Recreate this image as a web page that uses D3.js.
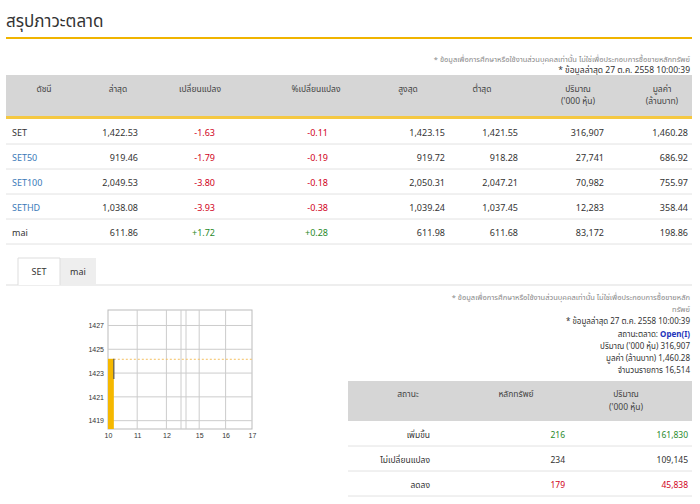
<!DOCTYPE html><html><head><meta charset="utf-8">
<script src="https://cdn.jsdelivr.net/npm/d3@7"></script>
<style>body{margin:0;background:#fff;font-family:"Noto Sans","Noto Sans Thai",Arial,sans-serif}</style></head><body>
<svg id="c" width="700" height="504"></svg>
<script>
const indices=["SET","SET50","SET100","SETHD","mai"];
const last=["1,422.53","919.46","2,049.53","1,038.08","611.86"];
const chg=["-1.63","-1.79","-3.80","-3.93","+1.72"];
const pct=["-0.11","-0.19","-0.18","-0.38","+0.28"];
const high=["1,423.15","919.72","2,050.31","1,039.24","611.98"];
const low=["1,421.55","918.28","2,047.21","1,037.45","611.68"];
const vol=["316,907","27,741","70,982","12,283","83,172"];
const val=["1,460.28","686.92","755.97","358.44","198.86"];
const yTicks=[1419,1421,1423,1425,1427];
const xTicks=[10,11,12,15,16,17];
const barTime=[10,10.2];const barVal=1424.2;const prevClose=1424.16;
const lineT=[10.2,10.2];const lineV=[1424.2,1422.5];
const statusRows=["เพิ่มขึ้น","ไม่เปลี่ยนแปลง","ลดลง"];
const statusN=[216,234,179];
const statusVol=["161,830","109,145","45,838"];
const svg=d3.select("#c");
const t=(x,y,s,o={})=>svg.append("text").attr("x",x).attr("y",y).text(s).attr("font-size",o.fs||10).attr("fill",o.c||"#333").attr("text-anchor",o.a||"start").attr("font-weight",o.w||"normal");
t(6,27,"สรุปภาวะตลาด",{fs:17,c:"#333"});
svg.append("rect").attr("x",6).attr("y",37).attr("width",686).attr("height",2).attr("fill","#f0b400");
t(690,62,"* ข้อมูลเพื่อการศึกษาหรือใช้งานส่วนบุคคลเท่านั้น ไม่ใช่เพื่อประกอบการซื้อขายหลักทรัพย์",{fs:7.5,c:"#888",a:"end"});
t(690,73,"* ข้อมูลล่าสุด 27 ต.ค. 2558 10:00:39",{fs:8.5,c:"#333",a:"end"});
svg.append("rect").attr("x",6).attr("y",75).attr("width",686).attr("height",42).attr("fill","#d6d6d6");
svg.append("rect").attr("x",6).attr("y",116).attr("width",686).attr("height",3).attr("fill","#f5c842");
const cols=[[44,"ดัชนี"],[118,"ล่าสุด"],[200,"เปลี่ยนแปลง"],[316,"%เปลี่ยนแปลง"],[408,"สูงสุด"],[482,"ต่ำสุด"],[578,"ปริมาณ","('000 หุ้น)"],[662,"มูลค่า","(ล้านบาท)"]];
cols.forEach(c=>{t(c[0],92,c[1],{fs:8.5,a:"middle",c:"#444"});if(c[2])t(c[0],104,c[2],{fs:8.5,a:"middle",c:"#444"});});
const ry=d3.scaleBand().domain(indices).range([119,244]);
indices.forEach((d,i)=>{const y=ry(d)+ry.bandwidth()/2+4;
 t(12,y,d,{fs:9,c:i==0||i==4?"#333":"#3a7ab8"});
 const col=chg[i][0]=="-"?"#d0021b":"#2a8a2a";
 t(138,y,last[i],{fs:9,a:"end"});t(215,y,chg[i],{fs:9,a:"end",c:col});t(328,y,pct[i],{fs:9,a:"end",c:col});
 t(445,y,high[i],{fs:9,a:"end"});t(518,y,low[i],{fs:9,a:"end"});t(604,y,vol[i],{fs:9,a:"end"});t(688,y,val[i],{fs:9,a:"end"});
 svg.append("line").attr("x1",6).attr("x2",692).attr("y1",ry(d)+ry.bandwidth()).attr("y2",ry(d)+ry.bandwidth()).attr("stroke","#e2e2e2");});
svg.append("line").attr("x1",6).attr("x2",692).attr("y1",285).attr("y2",285).attr("stroke","#ddd");
svg.append("rect").attr("x",60).attr("y",258).attr("width",36).attr("height",27).attr("fill","#eee");
svg.append("path").attr("d","M18,285V258H60V285").attr("fill","#fff").attr("stroke","#ddd");
t(39,275,"SET",{fs:9,a:"middle"});t(78,275,"mai",{fs:9,a:"middle"});
const x=d3.scaleLinear().domain([10,12.5,14.5,17]).range([108,181,186,252]);
const y=d3.scaleLinear().domain([1418.3,1428.3]).range([429,310]);
const g=svg.append("g");
g.append("rect").attr("x",108).attr("y",310).attr("width",144).attr("height",119).attr("fill","#fff").attr("stroke","#bbb");
[11,12,12.5,14.5,15,16].forEach(v=>g.append("line").attr("x1",x(v)).attr("x2",x(v)).attr("y1",310).attr("y2",429).attr("stroke","#ccc"));
yTicks.forEach(v=>g.append("line").attr("x1",108).attr("x2",252).attr("y1",y(v)).attr("y2",y(v)).attr("stroke","#ccc"));
g.append("rect").attr("x",x(barTime[0])).attr("y",y(barVal)).attr("width",x(barTime[1])-x(barTime[0])).attr("height",429-y(barVal)).attr("fill","#f5b800");
g.append("line").attr("x1",x(barTime[1])).attr("x2",252).attr("y1",y(prevClose)).attr("y2",y(prevClose)).attr("stroke","#f5c060").attr("stroke-dasharray","2,2");
g.append("line").attr("x1",x(lineT[0])).attr("x2",x(lineT[1])).attr("y1",y(lineV[0])).attr("y2",y(lineV[1])).attr("stroke","#555").attr("stroke-width",1.2);
const ya=g.append("g").attr("transform","translate(108,0)").call(d3.axisLeft(y).tickValues(yTicks).tickFormat(d3.format("d")).tickSize(0).tickPadding(4));
const xa=g.append("g").attr("transform","translate(0,429)").call(d3.axisBottom(x).tickValues(xTicks).tickFormat(d3.format("d")).tickSize(0).tickPadding(4));
[ya,xa].forEach(a=>{a.select(".domain").remove();a.selectAll("text").attr("font-size",7).attr("fill","#333");});
t(690,300,"* ข้อมูลเพื่อการศึกษาหรือใช้งานส่วนบุคคลเท่านั้น ไม่ใช่เพื่อประกอบการซื้อขายหลัก",{fs:7.5,c:"#888",a:"end"});
t(690,312,"ทรัพย์",{fs:7.5,c:"#888",a:"end"});
t(690,324,"* ข้อมูลล่าสุด 27 ต.ค. 2558 10:00:39",{fs:8,a:"end"});
svg.append("text").attr("x",690).attr("y",337).attr("text-anchor","end").attr("font-size",8).attr("fill","#333").text("สถานะตลาด: ").append("tspan").attr("fill","#2233bb").attr("font-weight","bold").text("Open(I)");
t(690,349,"ปริมาณ ('000 หุ้น)  316,907",{fs:8,a:"end"});
t(690,361,"มูลค่า (ล้านบาท)  1,460.28",{fs:8,a:"end"});
t(690,373,"จำนวนรายการ  16,514",{fs:8,a:"end"});
svg.append("rect").attr("x",348).attr("y",381).attr("width",344).attr("height",40).attr("fill","#d6d6d6");
t(408,397,"สถานะ",{fs:8.5,a:"middle",c:"#444"});t(516,397,"หลักทรัพย์",{fs:8.5,a:"middle",c:"#444"});
t(626,397,"ปริมาณ",{fs:8.5,a:"middle",c:"#444"});t(626,410,"('000 หุ้น)",{fs:8.5,a:"middle",c:"#444"});
const sy=d3.scaleBand().domain(statusRows).range([421,496]);
statusRows.forEach((d,i)=>{const yy=sy(d)+sy.bandwidth()/2+4;const c=i==0?"#2a8a2a":i==2?"#d0021b":"#333";
 t(430,yy,d,{fs:8.5,a:"end"});t(565,yy,statusN[i],{fs:8.5,a:"end",c});t(688,yy,statusVol[i],{fs:8.5,a:"end",c});
 svg.append("line").attr("x1",348).attr("x2",692).attr("y1",sy(d)+sy.bandwidth()).attr("y2",sy(d)+sy.bandwidth()).attr("stroke","#e2e2e2");});
</script></body></html>
